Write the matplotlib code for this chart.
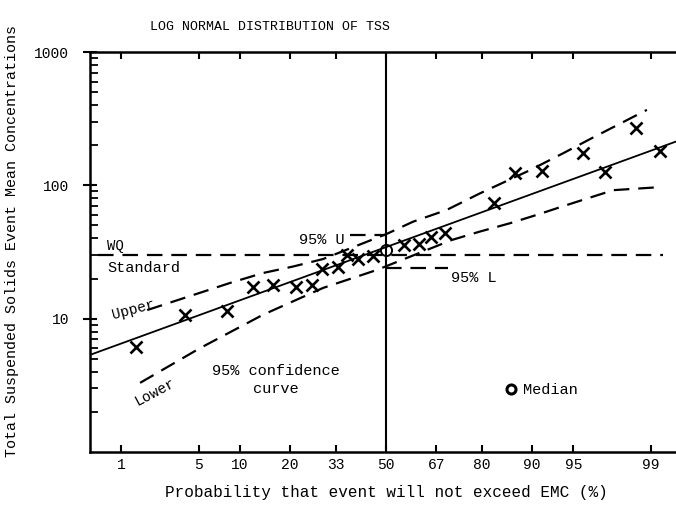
import numpy as np
import matplotlib
matplotlib.use("Agg")
import matplotlib.pyplot as plt
from matplotlib.lines import Line2D
from statistics import NormalDist

plt.rcParams["font.family"] = ["Liberation Mono", "DejaVu Sans Mono"]

# observed TSS event mean concentrations (plotting position in %, mg/l)
emc_prob = [1.4, 3.9, 8.1, 12.2, 16.0, 21.5, 25.7, 28.8, 33.8, 36.5, 40.4, 45.6,
            56.3, 61.5, 65.3, 69.8, 82.8, 87.1, 91.4, 95.8, 97.3, 98.6, 99.2]
emc_val = [6.1, 10.7, 11.5, 17.4, 17.9, 17.2, 17.9, 23.5, 24.5, 30.0, 27.9, 29.5,
           35.7, 36.4, 40.7, 44.2, 74, 123, 127, 174, 125, 268, 181]

median_prob = [50]
median_val = [33]

# fitted log normal line
fit_prob = [0.467, 99.455]
fit_val = [5.35, 213]

# 95% confidence curves
upper_prob = [1.8, 8.5, 14, 20.7, 29, 50, 59.4, 70.3, 79.5, 89.7, 94, 96.5, 98.9]
upper_val = [11.6, 18.5, 22, 24.6, 28, 43, 53.4, 65.4, 87, 130, 174, 227, 368]
lower_prob = [1.54, 5.1, 14, 29, 46.8, 71.8, 79.5, 86.2, 90.7, 94.4, 97.7, 99.2]
lower_val = [3.3, 6.0, 10.7, 17.0, 23.2, 38.9, 45, 52, 60, 71.3, 92, 97]

# water quality standard and confidence limits of the median
wq_standard = 30
wq_prob = [0.57, 99.25]
median_upper = 42.5
median_upper_prob = [37.6, 50]
median_lower = 24.0
median_lower_prob = [50, 70.7]

x_ticks = [1, 5, 10, 20, 33, 50, 67, 80, 90, 95, 99]
y_ticks = [10, 100, 1000]

nd = NormalDist()
_ppf = np.vectorize(nd.inv_cdf, otypes=[float])
_cdf = np.vectorize(nd.cdf, otypes=[float])


def prob_forward(p):
    p = np.clip(np.asarray(p, dtype=float), 1e-6, 100 - 1e-6)
    return _ppf(p / 100.0)


def prob_inverse(z):
    return _cdf(np.asarray(z, dtype=float)) * 100.0


W, H = 676, 515
fig = plt.figure(figsize=(W / 100, H / 100), dpi=100)
ax = fig.add_axes([90 / W, (H - 452) / H, (W - 90) / W, 400 / H])


def fx(x, y):
    return x / W, 1 - y / H


ax.set_yscale("log")
ax.set_xscale("function", functions=(prob_forward, prob_inverse))
ax.set_xlim(0.467, 99.455)
ax.set_ylim(1, 1000)

dash = (0, (7, 4))
ax.plot(wq_prob, [wq_standard] * 2, color="black", lw=1.6, ls=dash)
ax.plot(upper_prob, upper_val, color="black", lw=1.6, ls=dash)
ax.plot(lower_prob, lower_val, color="black", lw=1.6, ls=dash)
ax.plot(median_upper_prob, [median_upper] * 2, color="black", lw=1.6, ls=dash)
ax.plot(median_lower_prob, [median_lower] * 2, color="black", lw=1.6, ls=dash)
ax.plot(fit_prob, fit_val, color="black", lw=1.3)
ax.axvline(50, color="black", lw=1.5)

ax.plot(emc_prob, emc_val, ls="none", marker="x", ms=8.5, mew=1.9, color="black")
ax.plot(median_prob, median_val, ls="none", marker="o", ms=8, mfc="none",
        mec="black", mew=1.4)

ax.set_xticks(x_ticks)
ax.set_xticklabels([str(t) for t in x_ticks])
ax.xaxis.set_minor_locator(matplotlib.ticker.NullLocator())
ax.set_yticks(y_ticks)
ax.set_yticklabels([str(t) for t in y_ticks])

for s in ["left", "bottom", "top"]:
    ax.spines[s].set_linewidth(1.8)
ax.spines["right"].set_visible(False)

ax.tick_params(axis="x", which="major", direction="in", length=5, width=1.5,
               top=True, labeltop=False, pad=4, labelsize=10.5)
ax.tick_params(axis="y", which="major", direction="inout", length=10, width=1.5,
               right=False, pad=10, labelsize=10.5)
ax.tick_params(axis="y", which="minor", direction="in", length=6, width=1.3,
               right=False)

fig.text(*fx(270, 27), "LOG NORMAL DISTRIBUTION OF TSS", ha="center", va="center",
         fontsize=9.5)
fig.text(*fx(12, 457), "Total Suspended Solids Event Mean Concentrations",
         rotation=90, ha="center", va="bottom", fontsize=10.8)
fig.text(*fx(386, 493), "Probability that event will not exceed EMC (%)",
         ha="center", va="center", fontsize=11.5)

fig.text(*fx(107, 246), "WQ", ha="left", va="center", fontsize=10)
fig.text(*fx(107, 268), "Standard", ha="left", va="center", fontsize=11)
fig.text(*fx(133, 310), "Upper", ha="center", va="center", fontsize=10.5, rotation=15)
fig.text(*fx(155, 392), "Lower", ha="center", va="center", fontsize=10.5, rotation=28)
fig.text(*fx(212, 371), "95% confidence", ha="left", va="center", fontsize=11)
fig.text(*fx(253, 389), "curve", ha="left", va="center", fontsize=11)
fig.text(*fx(299, 240), "95% U", ha="left", va="center", fontsize=11)
fig.text(*fx(451, 278), "95% L", ha="left", va="center", fontsize=11)

median_handle = Line2D([], [], ls="none", marker="o", ms=6.5, mfc="white",
                       mec="black", mew=2.2)
fig.legend([median_handle], ["Median"], loc="center left",
           bbox_to_anchor=fx(503, 390), frameon=False, fontsize=11,
           handlelength=1.0, handletextpad=0.3, borderpad=0, borderaxespad=0)

fig.savefig("out.png", dpi=100)
